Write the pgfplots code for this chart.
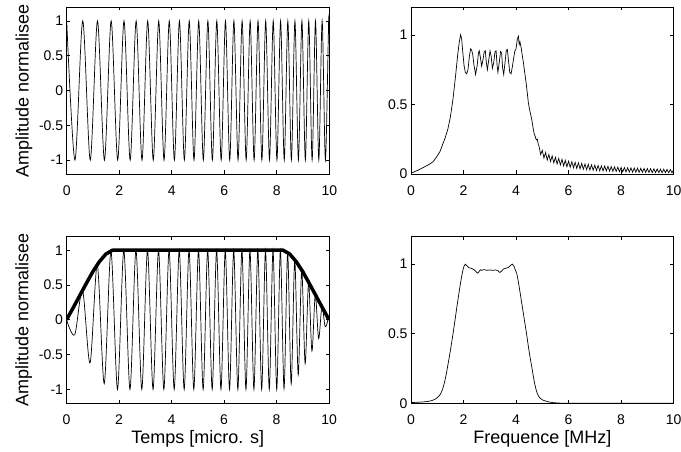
\documentclass[border=0pt]{standalone}
\usepackage{fontspec}
\setmainfont{Liberation Sans}
\usepackage{pgfplots}
\pgfplotsset{compat=1.18}
\pgfplotsset{
  mstyle/.style={
    scale only axis, width=262.6pt, height=167pt,
    xmin=0, xmax=10,
    tick align=inside, tick pos=both, major tick length=3.5pt,
    xtick={0,2,4,6,8,10}, xticklabels={0,2,4,6,8,10},
    tick label style={font=\fontsize{14}{14}\selectfont},
    xticklabel style={yshift=-8pt},
    axis line style={line width=0.6pt},
    tick style={black, line width=0.6pt},
    label style={font=\fontsize{18}{18}\selectfont},
    ylabel style={at={(axis description cs:-0.163,0.5)}, anchor=center},
    xlabel style={at={(axis description cs:0.5,-0.214)}, anchor=center},
    anchor=south west,
  },
  sigstyle/.style={mstyle, ymin=-1.2, ymax=1.2, ytick={-1,-0.5,0,0.5,1}, yticklabels={-1,-0.5,0,0.5,1}},
  specstyle/.style={mstyle, ymin=0, ymax=1.2, ytick={0,0.5,1}, yticklabels={0,0.5,1}},
}
\begin{document}
\begin{tikzpicture}
\path[use as bounding box] (0pt,0pt) rectangle (681pt,452pt);

% top-left: chirp
\begin{axis}[sigstyle, at={(66.7pt,278pt)}, ylabel={Amplitude normalisee}]
\addplot[black, line width=0.7pt, smooth] coordinates {
(0,1)(0.313,-1)(0.611,1)(0.897,-1)(1.172,1)(1.437,-1)(1.693,1)(1.942,-1)(2.182,1)(2.417,-1)
(2.645,1)(2.867,-1)(3.084,1)(3.296,-1)(3.504,1)(3.707,-1)(3.906,1)(4.101,-1)(4.293,1)(4.481,-1)
(4.666,1)(4.848,-1)(5.027,1)(5.203,-1)(5.376,1)(5.547,-1)(5.716,1)(5.882,-1)(6.046,1)(6.208,-1)
(6.367,1)(6.525,-1)(6.680,1)(6.834,-1)(6.986,1)(7.137,-1)(7.286,1)(7.432,-1)(7.578,1)(7.722,-1)
(7.864,1)(8.006,-1)(8.145,1)(8.284,-1)(8.421,1)(8.556,-1)(8.691,1)(8.824,-1)(8.957,1)(9.088,-1)
(9.218,1)(9.346,-1)(9.474,1)(9.601,-1)(9.727,1)(9.852,-1)(9.975,1)(10,0.81)
};
\end{axis}

% top-right: spectrum
\begin{axis}[specstyle, at={(411pt,278pt)}]
\addplot[black, line width=0.7pt, sharp plot] coordinates {
(0,0.005)(0.15,0.018)(0.3,0.03)(0.5,0.05)(0.7,0.07)(0.85,0.09)(1.0,0.13)(1.1,0.16)(1.2,0.21)(1.3,0.26)
(1.4,0.32)(1.5,0.41)(1.6,0.54)(1.7,0.71)(1.78,0.86)(1.84,0.95)(1.89,1.0)(1.93,0.97)(1.97,0.88)(2.02,0.78)
(2.07,0.73)(2.12,0.72)(2.17,0.75)(2.22,0.84)(2.27,0.90)(2.31,0.89)(2.35,0.86)(2.40,0.78)(2.46,0.715)(2.52,0.78)
(2.57,0.87)(2.60,0.885)(2.64,0.84)(2.69,0.775)(2.74,0.82)(2.79,0.88)(2.83,0.885)(2.87,0.80)(2.91,0.75)(2.96,0.82)
(3.01,0.885)(3.05,0.85)(3.10,0.76)(3.15,0.80)(3.20,0.88)(3.24,0.885)(3.28,0.78)(3.31,0.73)(3.36,0.80)(3.41,0.88)
(3.45,0.87)(3.49,0.76)(3.53,0.715)(3.58,0.80)(3.63,0.89)(3.67,0.895)(3.71,0.82)(3.76,0.73)(3.81,0.72)(3.85,0.76)
(3.90,0.82)(3.95,0.88)(4.00,0.90)(4.05,0.97)(4.09,0.99)(4.12,0.93)(4.15,0.95)(4.20,0.90)(4.28,0.80)(4.33,0.73)
(4.38,0.66)(4.43,0.58)(4.47,0.51)(4.53,0.45)(4.60,0.39)(4.65,0.33)(4.69,0.29)(4.73,0.27)(4.77,0.245)(4.81,0.25)
(4.85,0.21)(4.875,0.20)(4.9375,0.14)(5.0,0.17)(5.0625,0.115)(5.125,0.155)(5.1875,0.10)(5.25,0.14)(5.3125,0.09)
(5.375,0.13)(5.4375,0.08)(5.5,0.12)(5.5625,0.072)(5.625,0.112)(5.6875,0.065)(5.75,0.105)(5.8125,0.058)(5.875,0.098)
(5.9375,0.052)(6.0,0.092)(6.0625,0.048)(6.125,0.088)(6.1875,0.044)(6.25,0.084)(6.3125,0.040)(6.375,0.080)(6.4375,0.037)
(6.5,0.076)(6.5625,0.034)(6.625,0.072)(6.6875,0.031)(6.75,0.069)(6.8125,0.029)(6.875,0.066)(6.9375,0.027)(7.0,0.063)
(7.0625,0.025)(7.125,0.061)(7.1875,0.023)(7.25,0.059)(7.3125,0.022)(7.375,0.057)(7.4375,0.021)(7.5,0.055)(7.5625,0.020)
(7.625,0.053)(7.6875,0.019)(7.75,0.051)(7.8125,0.018)(7.875,0.049)(7.9375,0.017)(8.0,0.047)(8.0625,0.016)(8.125,0.046)
(8.1875,0.015)(8.25,0.045)(8.3125,0.014)(8.375,0.044)(8.4375,0.013)(8.5,0.043)(8.5625,0.013)(8.625,0.042)(8.6875,0.012)
(8.75,0.041)(8.8125,0.012)(8.875,0.040)(8.9375,0.011)(9.0,0.039)(9.0625,0.011)(9.125,0.038)(9.1875,0.010)(9.25,0.037)
(9.3125,0.010)(9.375,0.036)(9.4375,0.010)(9.5,0.035)(9.5625,0.009)(9.625,0.034)(9.6875,0.009)(9.75,0.033)(9.8125,0.009)
(9.875,0.032)(9.9375,0.008)(10.0,0.031)
};
\end{axis}

% bottom-left: windowed chirp + envelope
\begin{axis}[sigstyle, at={(66.5pt,48.7pt)}, ylabel={Amplitude normalisee}, xlabel={Temps [micro. s]}]
\addplot[black, line width=0.7pt, smooth] coordinates {
(0,0)(0.313,-0.214)(0.611,0.423)(0.897,-0.62)(1.172,0.79)(1.437,-0.917)(1.693,0.987)(1.942,-1)(2.182,1)(2.417,-1)
(2.645,1)(2.867,-1)(3.084,1)(3.296,-1)(3.504,1)(3.707,-1)(3.906,1)(4.101,-1)(4.293,1)(4.481,-1)
(4.666,1)(4.848,-1)(5.027,1)(5.203,-1)(5.376,1)(5.547,-1)(5.716,1)(5.882,-1)(6.046,1)(6.208,-1)
(6.367,1)(6.525,-1)(6.680,1)(6.834,-1)(6.986,1)(7.137,-1)(7.286,1)(7.432,-1)(7.578,1)(7.722,-1)
(7.864,1)(8.006,-1)(8.145,1)(8.284,-0.99)(8.421,0.96)(8.556,-0.92)(8.691,0.86)(8.824,-0.79)(8.957,0.715)(9.088,-0.63)
(9.218,0.54)(9.346,-0.45)(9.474,0.36)(9.601,-0.27)(9.727,0.19)(9.852,-0.10)(9.975,0.017)(10,0)
};
\addplot[black, line width=3.5pt, line join=round, sharp plot] coordinates {
(0,0)(0.25,0.17)(0.5,0.345)(0.75,0.52)(1.0,0.69)(1.25,0.835)(1.5,0.945)(1.75,1)
(8.25,1)(8.5,0.945)(8.75,0.835)(9.0,0.69)(9.25,0.52)(9.5,0.345)(9.75,0.17)(10,0)
};
\end{axis}

% bottom-right: windowed spectrum
\begin{axis}[specstyle, at={(411pt,48.7pt)}, xlabel={Frequence [MHz]}]
\addplot[black, line width=0.7pt, smooth] coordinates {
(0,0.005)(0.3,0.008)(0.6,0.012)(0.8,0.02)(0.9,0.028)(1.0,0.04)(1.1,0.06)(1.2,0.10)(1.3,0.17)(1.4,0.27)
(1.5,0.38)(1.6,0.50)(1.7,0.63)(1.8,0.76)(1.9,0.88)(1.97,0.95)(2.02,0.985)(2.07,1.0)(2.12,0.99)(2.2,0.975)
(2.3,0.97)(2.4,0.96)(2.48,0.945)(2.54,0.935)(2.6,0.95)(2.65,0.96)(2.7,0.955)(2.75,0.96)(2.8,0.96)(2.9,0.955)
(3.0,0.958)(3.1,0.955)(3.2,0.958)(3.3,0.955)(3.38,0.94)(3.45,0.95)(3.52,0.965)(3.6,0.97)(3.7,0.975)(3.78,0.99)
(3.86,1.0)(3.92,0.985)(3.97,0.96)(4.03,0.93)(4.1,0.86)(4.2,0.74)(4.3,0.62)(4.4,0.50)(4.5,0.37)(4.6,0.26)
(4.7,0.15)(4.8,0.075)(4.9,0.04)(5.0,0.025)(5.2,0.012)(5.4,0.005)(5.7,0.001)(6,0)(10,0)
};
\end{axis}
\end{tikzpicture}
\end{document}
